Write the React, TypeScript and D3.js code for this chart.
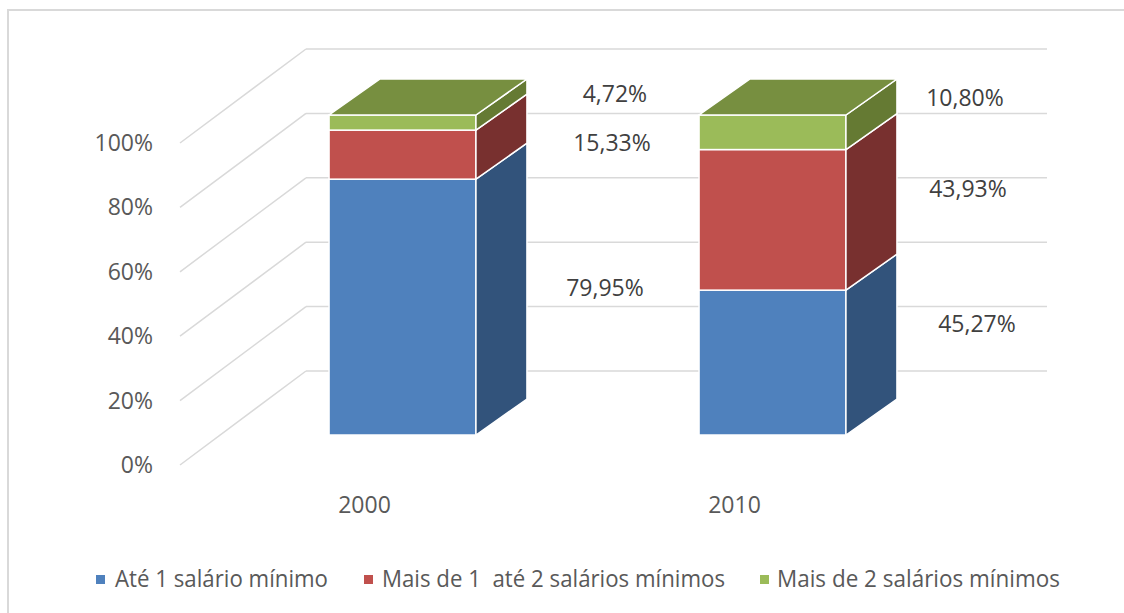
import React from "react";
import * as d3 from "d3";

// ---------- data ----------
const categories = ["2000", "2010"];
const seriesNames = [
  "Até 1 salário mínimo",
  "Mais de 1  até 2 salários mínimos",
  "Mais de 2 salários mínimos",
];
const seriesAte1 = [79.95, 45.27];
const seriesDe1a2 = [15.33, 43.93];
const seriesMais2 = [4.72, 10.8];
const yTicks = [0, 20, 40, 60, 80, 100];

// ---------- layout / style ----------
const W = 1124;
const H = 613;
const FONT = "'Open Sans', 'DejaVu Sans', sans-serif";
const frontFill = ["#4F81BD", "#C0504D", "#9BBB59"];
const sideFill = ["#32537B", "#78302F", "#657A33"];
const topFill = "#778F40";
const legendFill = ["#4F81BD", "#C0504D", "#9BBB59"];
const DX = 51; // bar depth offset
const DY = -36;
// label nudges [category][series]
const labelNudge = [
  [{ dx: -1, dy: 10 }, { dx: 6, dy: 17 }, { dx: 9, dy: 0 }],
  [{ dx: 1, dy: -10 }, { dx: -8, dy: -2 }, { dx: -11, dy: -5 }],
];
const legendItems = [
  { sq: 96, tx: 115, len: 213 },
  { sq: 364, tx: 382, len: 343 },
  { sq: 760, tx: 777, len: 283 },
];

export default function App() {
  const series = [seriesAte1, seriesDe1a2, seriesMais2];

  const x = d3
    .scaleBand<string>()
    .domain(categories)
    .range([217.5, 957.5])
    .paddingInner(0.603)
    .paddingOuter(0.3015);
  const y = d3.scaleLinear().domain([0, 100]).range([435, 115]);
  const yBack = d3.scaleLinear().domain([0, 100]).range([371, 49]);
  const yWallFront = d3.scaleLinear().domain([0, 100]).range([465, 143]);
  const wallFrontX = 180;
  const wallBackX = 306;
  const wallRightX = 1047;

  const stacked = d3.stack<number>()
    .keys([0, 1, 2] as any)
    .value((_d: any, k: any) => series[k][_d])(categories.map((_, i) => i) as any);

  const bw = x.bandwidth();
  const grid = "#D9D9D9";

  const bars: React.ReactNode[] = [];
  const labels: React.ReactNode[] = [];
  categories.forEach((cat, ci) => {
    const x0 = x(cat)!;
    const x1 = x0 + bw;
    stacked.forEach((layer, si) => {
      const [v0, v1] = layer[ci] as any;
      const yb = y(v0);
      const yt = y(v1);
      bars.push(
        <g key={`b-${ci}-${si}`}>
          <rect x={x0} y={yt} width={bw} height={yb - yt} fill={frontFill[si]} stroke="#fff" strokeWidth={1.5} />
          <polygon
            points={`${x1},${yb} ${x1 + DX},${yb + DY} ${x1 + DX},${yt + DY} ${x1},${yt}`}
            fill={sideFill[si]}
            stroke="#fff"
            strokeWidth={1.5}
          />
          {si === stacked.length - 1 && (
            <polygon
              points={`${x0},${yt} ${x1},${yt} ${x1 + DX},${yt + DY} ${x0 + DX},${yt + DY}`}
              fill={topFill}
              stroke="#fff"
              strokeWidth={1.5}
            />
          )}
        </g>
      );
      const val = series[si][ci];
      const nudge = labelNudge[ci][si];
      labels.push(
        <text
          key={`l-${ci}-${si}`}
          x={x1 + 130 + nudge.dx}
          y={y((v0 + v1) / 2) - 30 + nudge.dy}
          textAnchor="middle"
          dominantBaseline="central"
          fontFamily={FONT}
          fontSize={23}
          fill="#404040"
        >
          {val.toFixed(2).replace(".", ",") + "%"}
        </text>
      );
    });
  });

  return (
    <svg width={W} height={H} style={{ position: "absolute", left: 0, top: 0, background: "#fff" }}>
      <rect x={8} y={10} width={W + 20} height={H + 20} fill="#fff" stroke={grid} strokeWidth={2} />
      {/* walls */}
      {yTicks.map((t) => (
        <g key={`g-${t}`}>
          <line x1={wallFrontX} y1={yWallFront(t)} x2={wallBackX} y2={yBack(t)} stroke={grid} strokeWidth={1.5} />
          <line x1={wallBackX} y1={yBack(t)} x2={wallRightX} y2={yBack(t)} stroke={grid} strokeWidth={1.5} />
          <text
            x={153}
            y={yWallFront(t) + 8}
            textAnchor="end"
            fontFamily={FONT}
            fontSize={23}
            fill="#595959"
          >
            {t + "%"}
          </text>
        </g>
      ))}
      {bars}
      {labels}
      {categories.map((cat) => (
        <text
          key={`c-${cat}`}
          x={x(cat)! + bw / 2 - 38}
          y={513}
          textAnchor="middle"
          fontFamily={FONT}
          fontSize={23}
          fill="#595959"
        >
          {cat}
        </text>
      ))}
      {seriesNames.map((name, i) => (
        <g key={`lg-${i}`}>
          <rect x={legendItems[i].sq} y={575} width={9} height={9} fill={legendFill[i]} />
          <text
            x={legendItems[i].tx}
            y={587}
            fontFamily={FONT}
            fontSize={23}
            fill="#595959"
            textLength={legendItems[i].len}
            lengthAdjust="spacingAndGlyphs"
            style={{ whiteSpace: "pre" }}
          >
            {name}
          </text>
        </g>
      ))}
    </svg>
  );
}
